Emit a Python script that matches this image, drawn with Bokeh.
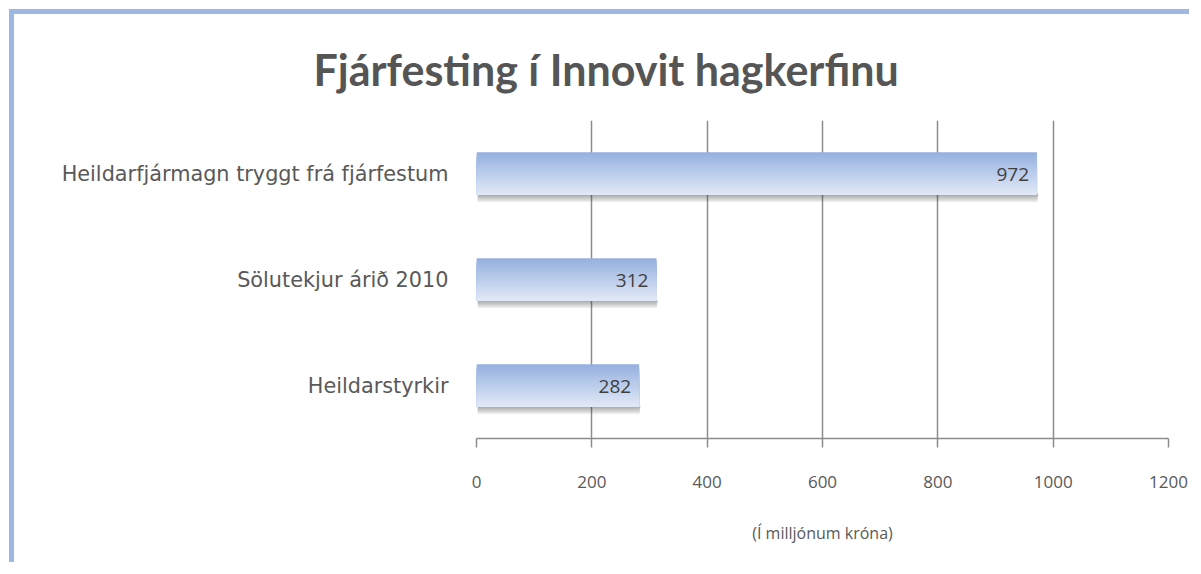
from bokeh.plotting import figure
from bokeh.models import ColumnDataSource, FixedTicker, LabelSet, Title
from bokeh.core.properties import value
from bokeh.embed import file_html
from bokeh.resources import INLINE
import numpy as np

# ---- data ----
categories = ["Heildarstyrkir", "Sölutekjur árið 2010", "Heildarfjármagn tryggt frá fjárfestum"]
values = [282, 312, 972]
x_ticks = [0, 200, 400, 600, 800, 1000, 1200]
title_text = "Fjárfesting í Innovit hagkerfinu"
x_label = "(Í milljónum króna)"

FONT = "Open Sans"
TEXT = "#595959"
GRID = "#8c8c8c"

W, H = 1180, 553
p = figure(width=W, height=H, output_backend="svg", toolbar_location=None,
           x_range=(0, 1200), y_range=(-0.5, len(categories) - 0.5),
           min_border_left=462, min_border_right=26, min_border_top=106,
           min_border_bottom=129)
p.styles = {"border-top": "5px solid #9fb7e3", "border-left": "5px solid #9fb7e3",
            "margin-left": "9px", "margin-top": "9px"}
p.outline_line_color = None
p.background_fill_color = "white"
p.border_fill_color = "white"

ypos = np.arange(len(categories))
vals = np.array(values, dtype=float)
bh = 0.4

# shadow
for k in range(1, 9):
    d = k * 0.009
    p.quad(left=np.zeros_like(vals) + 2, right=vals + 3 - k * 0.3,
           top=ypos - bh / 2 + 0.01, bottom=ypos - bh / 2 - d,
           fill_color="#303030", fill_alpha=0.06, line_color=None)

# gradient bars (each slice covers from its top down to the bar bottom)
N = 30
top_c = np.array([0x95, 0xb1, 0xdf])
bot_c = np.array([0xe1, 0xe8, 0xf6])
for i in range(N):
    t = i / (N - 1)
    c = top_c + (bot_c - top_c) * t
    col = "#%02x%02x%02x" % tuple(int(round(v)) for v in c)
    p.quad(left=np.zeros_like(vals), right=vals,
           top=ypos + bh / 2 - i * bh / N, bottom=ypos - bh / 2,
           fill_color=col, line_color=None)

# value labels
src = ColumnDataSource(dict(x=vals, y=ypos, t=[str(v) for v in values]))
p.add_layout(LabelSet(x="x", y="y", text="t", source=src, x_offset=-8, y_offset=-1,
                      text_align="right", text_baseline="middle",
                      text_font=value(FONT), text_font_size=value("19px"),
                      text_color="#404040"))

# axes
p.xaxis.ticker = FixedTicker(ticks=x_ticks)
p.xaxis.axis_line_color = GRID
p.xaxis.axis_line_width = 1.5
p.xaxis.major_tick_line_color = GRID
p.xaxis.major_tick_line_width = 1.5
p.xaxis.major_tick_out = 9
p.xaxis.major_tick_in = 0
p.xaxis.minor_tick_line_color = None
p.xaxis.major_label_standoff = 28
p.xaxis.major_label_text_font = FONT
p.xaxis.major_label_text_font_size = "17px"
p.xaxis.major_label_text_color = TEXT
p.xaxis.axis_label = x_label
p.xaxis.axis_label_text_font = FONT
p.xaxis.axis_label_text_font_size = "16px"
p.xaxis.axis_label_text_font_style = "normal"
p.xaxis.axis_label_text_color = TEXT
p.xaxis.axis_label_standoff = 31

p.yaxis.ticker = FixedTicker(ticks=list(ypos))
p.yaxis.major_label_overrides = {int(i): c for i, c in zip(ypos, categories)}
p.yaxis.axis_line_color = None
p.yaxis.major_tick_line_color = None
p.yaxis.minor_tick_line_color = None
p.yaxis.major_label_standoff = 22
p.yaxis.major_label_text_font = "DejaVu Sans"
p.yaxis.major_label_text_font_size = "20.8px"
p.yaxis.major_label_text_color = TEXT

p.xgrid.grid_line_color = GRID
p.xgrid.grid_line_width = 1.5
p.ygrid.grid_line_color = None

p.title = Title(text=title_text, align="left", offset=-163, standoff=52,
                text_font="Lato", text_font_size="43px", text_font_style="bold",
                text_color="#555555")

open("out.html", "w").write(file_html(p, INLINE))
